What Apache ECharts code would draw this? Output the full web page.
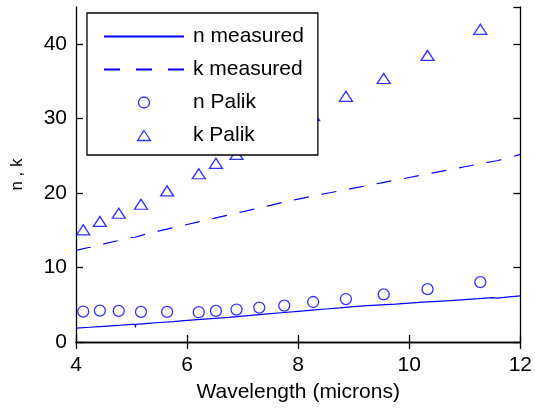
<!DOCTYPE html>
<html>
<head>
<meta charset="utf-8">
<script src="https://cdn.jsdelivr.net/npm/echarts@6/dist/echarts.min.js"></script>
<style>
html, body { margin: 0; padding: 0; background: #fff; }
#chart { width: 535px; height: 408px; }
</style>
</head>
<body>
<div id="chart"></div>
<script>
// Wavelength grid (microns) for the measured curves
const wlMeasured = [4.0, 4.25, 4.5, 4.75, 5.0, 5.065, 5.07, 5.075, 5.25, 5.5, 5.75, 6.0, 6.25, 6.5, 6.75, 7.0, 7.25, 7.5, 7.75, 8.0, 8.25, 8.5, 8.75, 9.0, 9.25, 9.5, 9.75, 10.0, 10.25, 10.5, 10.75, 11.0, 11.25, 11.5, 11.6, 11.75, 12.0];
// Measured refractive index n
const nMeasured = [1.87, 1.98, 2.1, 2.22, 2.36, 2.37, 1.95, 2.38, 2.48, 2.62, 2.75, 2.9, 3.04, 3.18, 3.32, 3.48, 3.64, 3.8, 3.96, 4.12, 4.28, 4.43, 4.58, 4.74, 4.88, 5.0, 5.1, 5.23, 5.35, 5.47, 5.57, 5.7, 5.83, 5.97, 5.9, 6.02, 6.2];
// Measured extinction coefficient k
const kMeasured = [12.3, 12.73, 13.17, 13.6, 14.04, 14.07, 14.09, 14.1, 14.48, 14.92, 15.35, 15.78, 16.2, 16.64, 17.07, 17.5, 17.93, 18.36, 18.8, 19.2, 19.58, 19.95, 20.3, 20.67, 21.02, 21.38, 21.74, 22.1, 22.45, 22.82, 23.18, 23.54, 23.9, 24.25, 24.38, 24.68, 25.2];

// Palik tabulated values
const wlPalik = [4.13, 4.43, 4.77, 5.17, 5.64, 6.21, 6.52, 6.89, 7.30, 7.75, 8.27, 8.86, 9.54, 10.33, 11.28];
const nPalik = [4.09, 4.22, 4.18, 4.04, 4.04, 4.0, 4.18, 4.36, 4.62, 4.89, 5.37, 5.77, 6.4, 7.1, 8.04];
const kPalik = [15.07, 16.2, 17.3, 18.5, 20.3, 22.6, 24.0, 25.2, 27.0, 28.7, 30.4, 33.0, 35.4, 38.5, 42.0];

const xTicks = { min: 4, max: 12, interval: 2 };
const yTicks = { min: 0, max: 45, interval: 10 };

const pair = (xs, ys) => xs.map((x, i) => [x, ys[i]]);
const BLUE = '#0000ff';
const FONT = '"Liberation Sans", Arial, sans-serif';
const FS = 21;

// Legend glyphs sized inside the 80x14 legend icon box (corner moves keep the box)
const ICON_CIRCLE = 'path://M0,0 M80,14 M45.5,7 A5.5,5.5 0 1 1 34.5,7 A5.5,5.5 0 1 1 45.5,7 Z';
const ICON_TRIANGLE = 'path://M0,0 M80,14 M40,2 L46.5,12 L33.5,12 Z';
const HIDDEN_SYMBOL = { color: 'rgba(0,0,0,0)', borderColor: 'rgba(0,0,0,0)', borderWidth: 0 };
const HOLLOW = { color: 'rgba(0,0,0,0)', borderColor: BLUE, borderWidth: 1.3 };

const chart = echarts.init(document.getElementById('chart'), null, { renderer: 'canvas' });

const frameAxis = {
  axisLine: { show: true, lineStyle: { color: '#000', width: 1.3 } },
  axisTick: { show: true, inside: true, length: 7, lineStyle: { color: '#000', width: 1.3 } },
  splitLine: { show: false }
};

chart.setOption({
  animation: false,
  backgroundColor: '#fff',
  textStyle: { fontFamily: FONT },
  grid: { left: 76, right: 13, top: 7, bottom: 64 },
  xAxis: [
    Object.assign({
      type: 'value', position: 'bottom', min: xTicks.min, max: xTicks.max, interval: xTicks.interval,
      name: 'Wavelength (microns)', nameLocation: 'middle', nameGap: 40,
      nameTextStyle: { fontSize: FS, color: '#000', fontFamily: FONT },
      axisLabel: { fontSize: FS, color: '#000', margin: 13, fontFamily: FONT }
    }, frameAxis),
    Object.assign({
      type: 'value', position: 'top', min: xTicks.min, max: xTicks.max, interval: xTicks.interval,
      axisLabel: { show: false }
    }, frameAxis)
  ],
  yAxis: [
    Object.assign({
      type: 'value', position: 'left', min: yTicks.min, max: yTicks.max, interval: yTicks.interval,
      name: 'n , k', nameLocation: 'middle', nameGap: 50, nameMoveOverlap: false,
      nameTextStyle: { fontSize: 17, color: '#000', fontFamily: FONT },
      axisLabel: { fontSize: FS, color: '#000', margin: 9, showMaxLabel: false, fontFamily: FONT }
    }, frameAxis),
    Object.assign({
      type: 'value', position: 'right', min: yTicks.min, max: yTicks.max, interval: yTicks.interval,
      axisLabel: { show: false }
    }, frameAxis)
  ],
  legend: {
    orient: 'vertical',
    left: 87, top: 13,
    padding: [13, 14, 9, 16],
    itemWidth: 80, itemHeight: 14, itemGap: 12,
    backgroundColor: '#fff',
    borderColor: '#000', borderWidth: 1.3,
    textStyle: { fontSize: FS, color: '#000', lineHeight: 21, fontFamily: FONT, padding: [0, 0, 0, 4] },
    data: [
      { name: 'n measured', itemStyle: HIDDEN_SYMBOL },
      { name: 'k measured', itemStyle: HIDDEN_SYMBOL, lineStyle: { type: [16, 16] } },
      { name: 'n Palik', icon: ICON_CIRCLE, itemStyle: HOLLOW },
      { name: 'k Palik', icon: ICON_TRIANGLE, itemStyle: HOLLOW }
    ]
  },
  series: [
    {
      name: 'n measured', type: 'line', data: pair(wlMeasured, nMeasured),
      symbol: 'none', lineStyle: { color: BLUE, width: 1.2 }, itemStyle: { color: BLUE }
    },
    {
      name: 'k measured', type: 'line', data: pair(wlMeasured, kMeasured),
      symbol: 'none', lineStyle: { color: BLUE, width: 1.2, type: [15, 13] }, itemStyle: { color: BLUE }
    },
    {
      name: 'n Palik', type: 'scatter', data: pair(wlPalik, nPalik),
      symbol: 'circle', symbolSize: 11, itemStyle: HOLLOW
    },
    {
      name: 'k Palik', type: 'scatter', data: pair(wlPalik, kPalik),
      symbol: 'triangle', symbolSize: [13, 10], itemStyle: HOLLOW
    }
  ]
});
</script>
</body>
</html>
